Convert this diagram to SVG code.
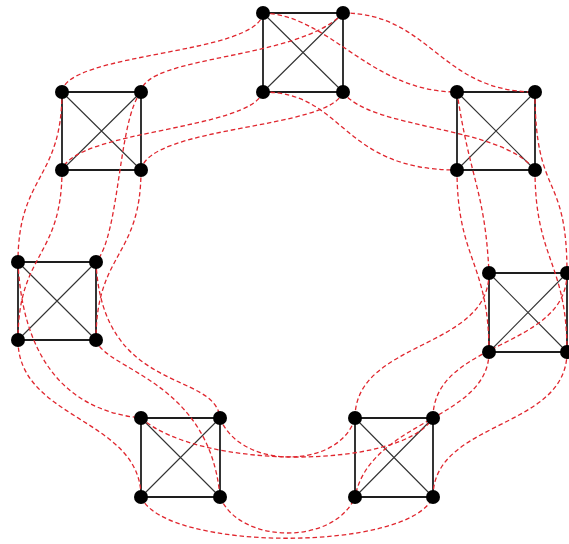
<svg xmlns="http://www.w3.org/2000/svg" width="569" height="544" viewBox="0 0 569 544">
<style>
.sq{fill:none;stroke:#1e1e1e;stroke-width:1.8}
.dg{fill:none;stroke:#333;stroke-width:1.1}
.rc{fill:none;stroke:#e0262e;stroke-width:1.3;stroke-dasharray:4.5 2.8}
.v{fill:#000}
</style>
<rect width="569" height="544" fill="#fff"/>
<g id="connectors">
<g id="square-edges">
<path class="sq" d="M263,13H343V92H263Z"/><path class="dg" d="M263,13L343,92M343,13L263,92"/>
<path class="sq" d="M62,92H141V170H62Z"/><path class="dg" d="M62,92L141,170M141,92L62,170"/>
<path class="sq" d="M457,92H535V170H457Z"/><path class="dg" d="M457,92L535,170M535,92L457,170"/>
<path class="sq" d="M18,262H96V340H18Z"/><path class="dg" d="M18,262L96,340M96,262L18,340"/>
<path class="sq" d="M489,273H567V352H489Z"/><path class="dg" d="M489,273L567,352M567,273L489,352"/>
<path class="sq" d="M141,418H220V497H141Z"/><path class="dg" d="M141,418L220,497M220,418L141,497"/>
<path class="sq" d="M355,418H433V497H355Z"/><path class="dg" d="M355,418L433,497M433,418L355,497"/>
</g>
<g id="red-links">
<path class="rc" d="M263,13C258,55 66,52 62,92"/>
<path class="rc" d="M343,13C300,60 145,55 141,92"/>
<path class="rc" d="M263,92C250,130 75,130 62,170"/>
<path class="rc" d="M343,92C330,130 150,125 141,170"/>
<path class="rc" d="M263,13C330,15 370,92 457,92"/>
<path class="rc" d="M343,13C430,13 440,92 535,92"/>
<path class="rc" d="M263,92C345,92 340,170 457,170"/>
<path class="rc" d="M343,92C370,130 500,125 535,170"/>
<path class="rc" d="M457,92C470,180 485,190 489,273"/>
<path class="rc" d="M457,170C457,260 489,262 489,352"/>
<path class="rc" d="M535,92C535,200 567,170 567,273"/>
<path class="rc" d="M535,170C535,260 567,262 567,352"/>
<path class="rc" d="M489,273C489,350 355,340 355,418"/>
<path class="rc" d="M489,352C489,420 370,420 355,497"/>
<path class="rc" d="M567,273C567,350 433,340 433,418"/>
<path class="rc" d="M567,352C567,430 433,420 433,497"/>
<path class="rc" d="M220,418C240,470 340,470 355,418"/>
<path class="rc" d="M141,418C200,470 400,470 433,418"/>
<path class="rc" d="M141,497C165,552 410,552 433,497"/>
<path class="rc" d="M220,497C240,545 335,545 355,497"/>
<path class="rc" d="M18,262C22,350 60,410 141,418"/>
<path class="rc" d="M18,340C18,420 141,418 141,497"/>
<path class="rc" d="M96,262C102,395 215,370 220,418"/>
<path class="rc" d="M96,340C105,370 210,380 220,497"/>
<path class="rc" d="M62,92C62,180 18,175 18,262"/>
<path class="rc" d="M62,170C62,258 18,252 18,340"/>
<path class="rc" d="M141,92C118,120 120,235 96,262"/>
<path class="rc" d="M141,170C141,258 96,252 96,340"/>
</g>
</g>
<g id="A-TL"><circle class="v" cx="263" cy="13" r="7"/></g>
<g id="A-TR"><circle class="v" cx="343" cy="13" r="7"/></g>
<g id="A-BL"><circle class="v" cx="263" cy="92" r="7"/></g>
<g id="A-BR"><circle class="v" cx="343" cy="92" r="7"/></g>
<g id="B-TL"><circle class="v" cx="62" cy="92" r="7"/></g>
<g id="B-TR"><circle class="v" cx="141" cy="92" r="7"/></g>
<g id="B-BL"><circle class="v" cx="62" cy="170" r="7"/></g>
<g id="B-BR"><circle class="v" cx="141" cy="170" r="7"/></g>
<g id="C-TL"><circle class="v" cx="457" cy="92" r="7"/></g>
<g id="C-TR"><circle class="v" cx="535" cy="92" r="7"/></g>
<g id="C-BL"><circle class="v" cx="457" cy="170" r="7"/></g>
<g id="C-BR"><circle class="v" cx="535" cy="170" r="7"/></g>
<g id="D-TL"><circle class="v" cx="18" cy="262" r="7"/></g>
<g id="D-TR"><circle class="v" cx="96" cy="262" r="7"/></g>
<g id="D-BL"><circle class="v" cx="18" cy="340" r="7"/></g>
<g id="D-BR"><circle class="v" cx="96" cy="340" r="7"/></g>
<g id="E-TL"><circle class="v" cx="489" cy="273" r="7"/></g>
<g id="E-TR"><circle class="v" cx="567" cy="273" r="7"/></g>
<g id="E-BL"><circle class="v" cx="489" cy="352" r="7"/></g>
<g id="E-BR"><circle class="v" cx="567" cy="352" r="7"/></g>
<g id="F-TL"><circle class="v" cx="141" cy="418" r="7"/></g>
<g id="F-TR"><circle class="v" cx="220" cy="418" r="7"/></g>
<g id="F-BL"><circle class="v" cx="141" cy="497" r="7"/></g>
<g id="F-BR"><circle class="v" cx="220" cy="497" r="7"/></g>
<g id="G-TL"><circle class="v" cx="355" cy="418" r="7"/></g>
<g id="G-TR"><circle class="v" cx="433" cy="418" r="7"/></g>
<g id="G-BL"><circle class="v" cx="355" cy="497" r="7"/></g>
<g id="G-BR"><circle class="v" cx="433" cy="497" r="7"/></g>
</svg>
